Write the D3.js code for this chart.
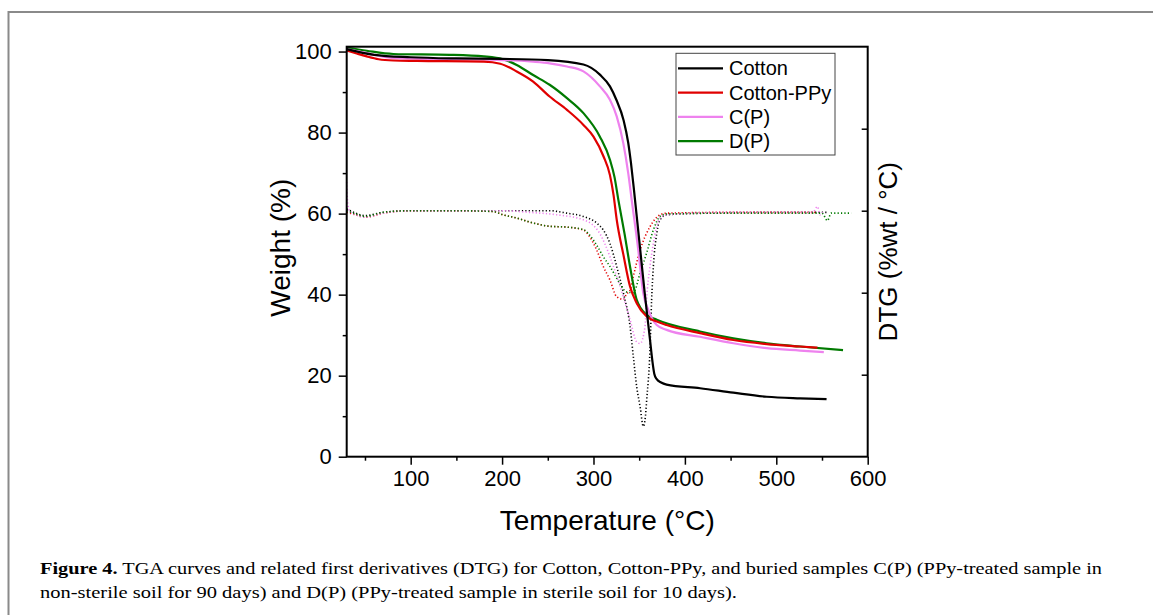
<!DOCTYPE html>
<html><head><meta charset="utf-8">
<script src="https://cdn.jsdelivr.net/npm/d3@7"></script>
<style>
html,body{margin:0;padding:0;background:#fff;}
svg{display:block;}
</style></head>
<body>
<script>
// ---- data ----
const seriesNames = ["Cotton", "Cotton-PPy", "C(P)", "D(P)"];
const seriesColors = ["#000000", "#e00000", "#ee82ee", "#007a00"];
const xTicks = [100, 200, 300, 400, 500, 600];
const yTicks = [0, 20, 40, 60, 80, 100];

// TGA: [temperature °C, weight %]
const tgaCotton = [[30,100.6],[60,99.2],[100,98.6],[150,98.3],[200,98.2],[250,97.9],[289,96.8],[307,94.3],[318,91.4],[325,88.1],[333,83],[338,77.5],[341,72.5],[344,66.5],[347,60],[350,53.5],[353,47],[356,40.5],[359,34.5],[362,28.5],[364.5,23.5],[366.5,20.5],[369,19.2],[374,18.3],[380,17.8],[416.6,16.9],[453,15.8],[489.5,14.8],[526,14.4],[555,14.2]];
const tgaCottonPPy = [[30,100.3],[40,99.6],[52,98.8],[65,98.1],[81,97.8],[107,97.7],[180,97.5],[198,97.0],[216,95.1],[234,92.6],[252,88.9],[271,85.6],[289,81.9],[300,79],[311,74.1],[318,69.5],[322,64.5],[325.4,58.5],[332.6,50],[340,42],[347.3,37.9],[358.2,34.6],[370,33.3],[380,32.5],[416.6,30.5],[453,28.8],[489.5,27.8],[526,27.2],[545,26.9]];
const tgaCP = [[30,100.6],[52,99.6],[81,98.4],[143,98.1],[201,97.9],[234,97.5],[252,97.1],[271,96.3],[289,95.1],[307,91.4],[318,88.1],[325.4,84],[332.6,77.4],[338,70],[341.8,63.4],[349,51],[354.5,40.3],[360,36.2],[369.2,32.5],[380,31.3],[416.6,29.6],[453,28],[489.5,26.8],[526,26.2],[552,25.8]];
const tgaDP = [[30,101],[52,100.2],[81,99.4],[143,99.2],[180,98.8],[201,98.1],[216,96.7],[234,94.2],[252,91.8],[271,88.5],[289,84.8],[307,79],[318,73.3],[323,69],[327.2,63.4],[334,55],[340,46.9],[347.3,38.7],[358.2,35],[369.2,33.8],[416.6,30.9],[453,29.2],[489.5,28],[526,27.2],[573,26.3]];

// DTG: [temperature °C, %wt/°C]
const dtgCotton = [[30,0.02],[40,-0.03],[50,-0.06],[70,-0.02],[100,0.0],[150,0.0],[200,0.0],[252,0.0],[271,-0.03],[289,-0.07],[303.5,-0.15],[310.7,-0.235],[318,-0.4],[325.4,-0.68],[332.6,-1.0],[340,-1.41],[343.6,-1.78],[347.3,-2.15],[351,-2.39],[354.5,-2.63],[356.4,-2.55],[358.2,-2.31],[361.8,-1.7],[363.6,-1.09],[365.5,-0.68],[369.2,-0.28],[372.8,-0.11],[380,-0.05],[420,-0.03],[500,-0.02],[555,-0.02]];
const dtgCottonPPy = [[30,-0.02],[40,-0.05],[50,-0.08],[70,-0.03],[100,0.0],[150,0.0],[190,-0.01],[201,-0.05],[216,-0.09],[234,-0.15],[252,-0.19],[270.7,-0.2],[289,-0.235],[296,-0.32],[303.5,-0.48],[310.7,-0.68],[318,-0.845],[325.4,-1.05],[332.6,-1.08],[336,-1.02],[340,-0.97],[343.6,-0.8],[351,-0.48],[361.8,-0.195],[372.8,-0.05],[380,-0.03],[450,-0.02],[545,-0.02]];
const dtgCP = [[30,0.35],[31,0.1],[33,0.0],[40,-0.05],[50,-0.08],[70,-0.03],[100,0.0],[150,0.0],[200,0.0],[230,-0.02],[260,-0.05],[289,-0.11],[307,-0.28],[318,-0.56],[325.4,-0.8],[332.6,-1.05],[340,-1.33],[347.3,-1.6],[351,-1.62],[356.4,-1.41],[358,-1.09],[361.8,-0.68],[365.5,-0.4],[369,-0.195],[374.6,-0.07],[380,-0.05],[450,-0.02],[540,-0.02],[545,0.05],[548,-0.05],[552,0.0]];
const dtgDP = [[30,0.0],[40,-0.04],[50,-0.07],[70,-0.02],[100,0.0],[150,0.0],[190,-0.01],[201,-0.05],[216,-0.09],[234,-0.15],[252,-0.19],[270.7,-0.2],[289,-0.23],[296,-0.3],[303.5,-0.42],[310.7,-0.56],[318,-0.68],[329,-0.89],[336,-0.99],[343.6,-1.0],[351,-0.76],[358,-0.52],[365.5,-0.235],[372.8,-0.07],[380,-0.04],[450,-0.03],[550,-0.03],[556,-0.12],[560,-0.03],[582,-0.03]];

const tgaSeries = [tgaCotton, tgaCottonPPy, tgaCP, tgaDP];
const dtgSeries = [dtgCotton, dtgCottonPPy, dtgCP, dtgDP];

const captionBold = "Figure 4.";
const captionLine1 = " TGA curves and related first derivatives (DTG) for Cotton, Cotton-PPy, and buried samples C(P) (PPy-treated sample in";
const captionLine2 = "non-sterile soil for 90 days) and D(P) (PPy-treated sample in sterile soil for 10 days).";

// ---- drawing ----
const W = 1153, H = 615;
const svg = d3.select("body").append("svg").attr("width", W).attr("height", H);
const sans = "'Liberation Sans', Arial, Helvetica, sans-serif";

// figure frame (top and left gray rules)
svg.append("path").attr("d", `M8.5,${H} V12 H${W}`).attr("fill","none").attr("stroke","#8a8a8a").attr("stroke-width",2);

const L = 346.7, R = 867.7, T = 46.7, B = 456.7;
const x = d3.scaleLinear().domain([30, 600]).range([L, R]);
const y = d3.scaleLinear().domain([0, 101.2]).range([B, T]);
const y2 = d3.scaleLinear().domain([-3, 2]).range([B, T]);

const g = svg.append("g");

// curves
const lineT = d3.line().x(d => x(d[0])).y(d => y(d[1])).curve(d3.curveMonotoneX);
const lineD = d3.line().x(d => x(d[0])).y(d => y2(d[1])).curve(d3.curveMonotoneX);

dtgSeries.forEach((s, i) => {
  g.append("path").attr("d", lineD(s)).attr("fill","none")
    .attr("stroke", seriesColors[i]).attr("stroke-width",1.6)
    .attr("stroke-dasharray","1.2,2.2");
});
[3,2,1,0].forEach(i => {
  g.append("path").attr("d", lineT(tgaSeries[i])).attr("fill","none")
    .attr("stroke", seriesColors[i]).attr("stroke-width",2.2);
});

// axes
const axStyle = sel => {
  sel.selectAll(".domain").remove();
  sel.selectAll("line").attr("stroke","#000").attr("stroke-width",1.5);
  sel.selectAll("text").attr("font-family", sans).attr("font-size", 22).attr("fill","#000");
};
g.append("g").attr("transform",`translate(0,${B})`)
  .call(d3.axisBottom(x).tickValues(xTicks).tickSize(8).tickPadding(6).tickFormat(d3.format("d")))
  .call(axStyle);
g.append("g").attr("transform",`translate(0,${B})`)
  .call(d3.axisBottom(x).tickValues(xTicks.map(v => v - 50)).tickSize(4).tickFormat(""))
  .call(axStyle);
g.append("g").attr("transform",`translate(${L},0)`)
  .call(d3.axisLeft(y).tickValues(yTicks).tickSize(8).tickPadding(7).tickFormat(d3.format("d")))
  .call(axStyle);
g.append("g").attr("transform",`translate(${L},0)`)
  .call(d3.axisLeft(y).tickValues(yTicks.slice(1).map(v => v - 10)).tickSize(4).tickFormat(""))
  .call(axStyle);
g.append("g").attr("transform",`translate(${R},0)`)
  .call(d3.axisRight(y2).tickValues([-2,-1,0,1]).tickSize(-6).tickFormat(""))
  .call(axStyle);

// frame
g.append("rect").attr("x",L).attr("y",T).attr("width",R-L).attr("height",B-T)
  .attr("fill","none").attr("stroke","#000").attr("stroke-width",2);

// axis titles
svg.append("text").attr("x",(L+R)/2).attr("y",530).attr("text-anchor","middle")
  .attr("font-family",sans).attr("font-size",28).text("Temperature (°C)");
svg.append("text").attr("transform",`translate(290,${(T+B)/2 - 4}) rotate(-90)`).attr("text-anchor","middle")
  .attr("font-family",sans).attr("font-size",28).text("Weight (%)");
svg.append("text").attr("transform",`translate(897,${(T+B)/2}) rotate(-90)`).attr("text-anchor","middle")
  .attr("font-family",sans).attr("font-size",26).text("DTG (%wt / °C)");

// legend
const lg = svg.append("g");
lg.append("rect").attr("x",676).attr("y",53.3).attr("width",159).attr("height",101.7)
  .attr("fill","#fff").attr("stroke","#444").attr("stroke-width",1);
seriesNames.forEach((n, i) => {
  const yy = 68.3 + i * 24.3;
  lg.append("line").attr("x1",678).attr("x2",723).attr("y1",yy).attr("y2",yy)
    .attr("stroke",seriesColors[i]).attr("stroke-width",2.2);
  lg.append("text").attr("x",729).attr("y",yy).attr("dy","0.35em")
    .attr("font-family",sans).attr("font-size",20).text(n);
});

// caption
const serif = "'Liberation Serif', 'Times New Roman', serif";
const c1 = svg.append("text").attr("x",40).attr("y",574).attr("font-family",serif).attr("font-size",17)
  .attr("textLength",1062).attr("lengthAdjust","spacingAndGlyphs");
c1.append("tspan").attr("font-weight","bold").text(captionBold);
c1.append("tspan").text(captionLine1);
svg.append("text").attr("x",40).attr("y",598).attr("font-family",serif).attr("font-size",17)
  .attr("textLength",697).attr("lengthAdjust","spacingAndGlyphs").text(captionLine2);
</script>
</body></html>
